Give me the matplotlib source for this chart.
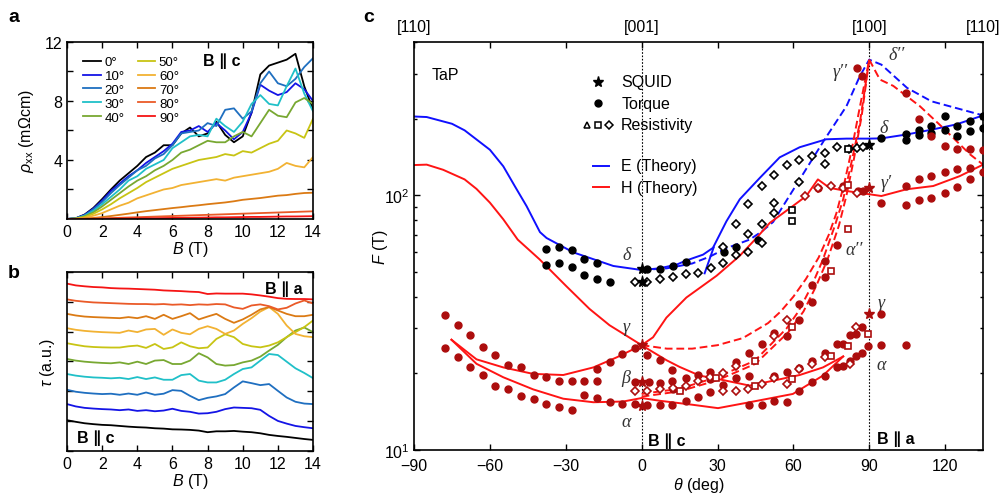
import matplotlib
matplotlib.use("Agg")
import matplotlib.pyplot as plt
import numpy as np

plt.rcParams["font.family"] = ["Liberation Sans", "DejaVu Sans"]
plt.rcParams["mathtext.fontset"] = "custom"
plt.rcParams["mathtext.rm"] = "Liberation Sans"
plt.rcParams["mathtext.it"] = "Liberation Sans:italic"
plt.rcParams["mathtext.bf"] = "Liberation Sans:bold"

# ---------------- panel a / b data ----------------
angles = ["0°", "10°", "20°", "30°", "40°", "50°", "60°", "70°", "80°", "90°"]
angle_colors = ["#000000", "#1414e6", "#1f6fc0", "#20c0c8", "#78a832",
                "#c8c414", "#f2b233", "#db7a14", "#ea5a28", "#f51414"]

field = [0, 0.5, 1, 1.5, 2, 2.5, 3, 3.5, 4, 4.5, 5, 5.5, 6, 6.5, 7, 7.5,
         8, 8.5, 9, 9.5, 10, 10.5, 11, 11.5, 12, 12.5, 13, 13.5, 14]

rho_xx = [
    [0, 0.05, 0.3, 0.75, 1.35, 2.0, 2.6, 3.1, 3.6, 4.2, 4.5, 5.0, 5.0, 5.8, 6.2,
     5.6, 5.8, 6.6, 5.7, 5.2, 5.6, 7.2, 9.8, 10.4, 10.6, 10.8, 11.2, 9.0, 7.4],
    [0, 0.05, 0.28, 0.7, 1.25, 1.9, 2.4, 2.9, 3.3, 3.8, 4.2, 4.6, 5.1, 5.9, 6.0,
     6.3, 5.9, 6.5, 6.0, 5.4, 5.9, 7.2, 9.1, 8.7, 8.4, 8.6, 9.2, 8.8, 8.0],
    [0, 0.04, 0.25, 0.65, 1.15, 1.75, 2.3, 2.8, 3.3, 3.6, 4.1, 4.4, 5.0, 5.8, 5.9,
     6.0, 6.5, 6.3, 7.4, 7.5, 6.8, 7.3, 9.2, 10.0, 9.2, 9.0, 9.5, 10.3, 10.9],
    [0, 0.04, 0.22, 0.55, 1.0, 1.5, 2.0, 2.6, 2.9, 3.4, 3.7, 4.0, 4.8, 5.2, 5.6,
     5.7, 5.6, 6.8, 6.3, 5.9, 6.6, 7.8, 8.4, 7.8, 7.7, 9.0, 10.2, 8.5, 7.3],
    [0, 0.03, 0.18, 0.45, 0.85, 1.3, 1.75, 2.2, 2.6, 2.9, 3.3, 3.6, 4.0, 4.5, 4.7,
     5.0, 5.3, 5.2, 5.2, 5.6, 5.9, 5.6, 6.5, 7.4, 7.0, 6.9, 7.9, 8.2, 7.8],
    [0, 0.02, 0.13, 0.35, 0.65, 1.0, 1.4, 1.75, 2.1, 2.5, 2.8, 3.1, 3.4, 3.6, 3.8,
     4.0, 4.1, 4.2, 4.4, 4.3, 4.6, 4.5, 4.8, 5.1, 5.3, 6.0, 5.8, 5.5, 6.8],
    [0, 0.01, 0.08, 0.22, 0.4, 0.65, 0.9, 1.1, 1.4, 1.6, 1.8, 2.0, 2.1, 2.3, 2.4,
     2.5, 2.6, 2.7, 2.6, 2.8, 2.9, 3.0, 3.1, 3.2, 3.4, 3.8, 3.6, 3.5, 4.2],
    [0, 0.01, 0.03, 0.07, 0.13, 0.2, 0.28, 0.36, 0.45, 0.53, 0.6, 0.67, 0.74, 0.8,
     0.87, 0.93, 1.0, 1.06, 1.12, 1.2, 1.3, 1.36, 1.42, 1.5, 1.58, 1.62, 1.7, 1.76, 1.78],
    [0, 0, 0.01, 0.02, 0.04, 0.06, 0.08, 0.1, 0.12, 0.14, 0.16, 0.18, 0.2, 0.22,
     0.24, 0.26, 0.28, 0.3, 0.32, 0.34, 0.36, 0.38, 0.4, 0.42, 0.44, 0.46, 0.48, 0.5, 0.52],
    [0, 0, 0, 0.01, 0.01, 0.02, 0.03, 0.03, 0.04, 0.05, 0.05, 0.06, 0.07, 0.08,
     0.08, 0.09, 0.1, 0.11, 0.11, 0.12, 0.13, 0.14, 0.14, 0.15, 0.16, 0.17, 0.17, 0.18, 0.19],
]

torque = [
    [17.2, 16.3, 15.5, 15.0, 14.6, 14.4, 14.0, 13.6, 13.3, 13.1, 12.7, 12.5, 12.1, 12.0,
     11.8, 11.4, 10.5, 11.0, 11.0, 11.2, 10.8, 10.5, 9.9, 9.0, 8.4, 7.9, 7.3, 6.7, 6.2],
    [26.2, 24.9, 24.1, 23.7, 23.4, 23.2, 22.8, 23.2, 22.4, 22.8, 22.2, 22.6, 23.6, 22.4,
     21.9, 20.9, 21.1, 21.9, 23.4, 24.3, 24.1, 23.9, 23.0, 19.6, 16.8, 15.3, 14.0, 13.3, 12.7],
    [34.2, 33.1, 32.5, 32.1, 31.8, 32.0, 31.4, 32.1, 31.4, 32.7, 31.4, 32.0, 34.0, 33.6,
     30.8, 28.4, 29.7, 30.5, 31.8, 35.5, 38.9, 37.9, 36.8, 37.4, 33.6, 29.9, 27.5, 26.5, 26.2],
    [43.0, 42.1, 41.5, 41.1, 40.9, 40.6, 40.9, 40.2, 41.3, 40.2, 41.1, 39.8, 39.8, 42.4,
     43.0, 39.3, 38.3, 38.3, 39.8, 43.0, 45.8, 46.7, 50.5, 54.2, 53.6, 49.9, 46.2, 43.6, 40.7],
    [51.4, 50.5, 49.9, 49.5, 49.2, 49.0, 49.5, 48.6, 49.9, 48.6, 50.5, 50.8, 48.6, 48.6,
     50.5, 54.6, 52.3, 48.6, 47.7, 48.0, 49.5, 50.5, 52.7, 56.1, 59.3, 63.6, 67.3, 69.0, 66.4],
    [60.2, 59.3, 58.5, 58.1, 57.9, 57.8, 57.8, 58.5, 58.9, 57.6, 59.8, 57.0, 57.9, 60.7,
     58.5, 57.4, 57.8, 62.6, 65.2, 63.6, 59.8, 58.5, 57.9, 58.9, 60.7, 63.6, 66.4, 69.2, 72.9],
    [68.6, 67.7, 67.1, 66.7, 66.4, 66.2, 66.0, 67.3, 66.4, 67.9, 68.2, 64.9, 67.9, 66.0,
     65.2, 68.2, 69.7, 68.2, 65.4, 67.3, 71.0, 74.2, 77.9, 80.4, 76.6, 70.1, 65.4, 64.1, 63.6],
    [76.6, 75.7, 75.1, 74.8, 74.6, 74.4, 74.2, 74.8, 74.2, 75.3, 73.8, 76.1, 73.8, 75.3,
     77.0, 73.5, 75.1, 76.6, 73.8, 71.6, 73.5, 76.1, 79.1, 80.4, 78.5, 76.6, 75.3, 75.3, 76.1],
    [84.7, 83.9, 83.4, 83.0, 82.8, 82.6, 82.4, 82.2, 82.1, 82.1, 81.9, 82.1, 81.7, 81.9,
     81.5, 81.9, 81.7, 82.1, 81.9, 80.2, 79.4, 81.3, 81.9, 80.9, 79.1, 80.0, 82.4, 84.1, 82.4],
    [93.5, 92.5, 92.0, 91.6, 91.4, 91.0, 90.8, 90.7, 90.5, 90.3, 90.1, 89.7, 89.5, 89.3,
     89.0, 88.8, 87.7, 88.0, 87.9, 87.9, 87.9, 87.5, 86.9, 86.2, 85.4, 85.0, 84.9, 84.9, 84.7],
]

# ---------------- panel c data ----------------
e_theta = [-90, -85, -75, -70, -60, -54.7, -50, -45.5, -40.2, -37.6, -27, -11.2, 0, 7.1,
           13.9, 17.7, 24.3, 28.2, 33.5, 38.8, 46.7, 54.6, 62.5, 73, 81, 90, 94.8, 105,
           114.6, 124.5, 135]
e_freq = [204, 203, 191, 180, 151, 130, 108, 90.7, 71.7, 68, 59.7, 52.8, 50.9, 51.7,
          53.5, 55.5, 58.5, 62.2, 79, 96.5, 117, 141, 154.5, 166, 167, 167, 167.4, 173.5,
          181, 190, 206]
e_branch_theta = [24.9, 28.5]
e_branch_freq = [49.4, 62.5]
e_dash_theta = [0, 10, 20, 27, 33.5, 42.7, 47.4, 52, 62.5, 72.4, 81, 86.3, 90, 94.8,
                105, 114.6, 124.5, 135]
e_dash_freq = [50.9, 51.7, 54.0, 57.5, 62, 67, 72, 78.6, 115.5, 166, 224, 294, 341,
               326, 264, 234, 220, 206]

h_upper_theta = [-90, -85, -78.5, -70, -65.3, -60, -54.7, -49, -40.4, -29.8, -20.6, -12.7,
                 -6, 0, 4.5, 9.8, 17.7, 29.6, 38.8, 45.4, 50.7, 59.8, 65.1, 69.7, 74.3,
                 81, 90, 94.8, 104.7, 115.3, 125.8, 135]
h_upper_freq = [131.5, 132, 126, 115.5, 106, 93.6, 80.5, 67, 56.1, 44, 35.8, 30.9, 28.1,
                25.8, 27.7, 33.1, 39.7, 48.3, 57.9, 68, 78, 90.8, 99.4, 115.5, 107, 104,
                101, 99.4, 105.6, 108.8, 119, 132]
h_beta_theta = [-75.2, -65.3, -54.7, -42.9, -31, -19.1, -9.9, 0, 4.6, 9.9, 15, 22.9,
                30.2, 42.7, 51.9, 62.5, 71.7, 79.7]
h_beta_freq = [27.1, 22.7, 21.1, 19.9, 19.7, 21.1, 23.1, 25.8, 24.2, 22.5, 21.2, 19.6,
               19.0, 17.9, 18.7, 19.7, 21.1, 23.3]
h_alpha_theta = [-75.2, -65.3, -54.7, -42.9, -31, -19.1, -7.3, 0, 7.3, 19.1, 30.2,
                 42.7, 59.8, 71.7, 79.7]
h_alpha_freq = [27.1, 21.8, 19.3, 17.3, 15.9, 15.4, 15.5, 16.0, 15.6, 15.1, 14.6,
                15.4, 16.6, 19.6, 23.3]
h_dash_gamma_theta = [0, 10, 20, 30, 40, 50, 55, 60, 65, 70, 74, 77, 80, 83, 86, 90]
h_dash_gamma_freq = [25.8, 25.0, 25.0, 25.8, 27.5, 31.5, 35, 40, 47, 57, 70, 85, 110,
                     150, 215, 341]
h_dash_a1_theta = [0, 15, 29.6, 44.7, 57.3, 62, 67.2, 71.7, 76.4, 79.7, 83, 86.3, 90]
h_dash_a1_freq = [16.6, 17.4, 19.3, 22.4, 30, 35, 44, 56, 76, 96.5, 135, 193, 341]
h_dash_a2_theta = [0, 15, 30, 45, 58, 64, 69, 73.5, 78, 81, 84, 87, 90]
h_dash_a2_freq = [16.2, 17.0, 18.8, 21.8, 29, 35, 44, 56, 76, 100, 140, 205, 341]
h_dash_right_theta = [90, 94.2, 99.5, 110, 119.2, 129.8, 135]
h_dash_right_freq = [341, 285, 269, 224, 184, 145, 132]

torque_black_theta = [-37.7, -32.7, -27.7, -22.7, -17.7, -37.7, -32.7, -27.7, -22.7,
                      -17.7, -12.7, 2.1, 7.1, 12.4, 17.4, 32.4, 37.2, 46, 94.8, 104.7,
                      104.7, 109.7, 109.7, 114.6, 114.6, 119.9, 119.9, 124.9, 124.9,
                      129.8, 129.8, 134.8, 134.8]
torque_black_freq = [61.4, 62.9, 60.8, 56.1, 54.1, 53.4, 54.1, 52.2, 48.7, 46.9, 45.5,
                     51.3, 51.3, 52.8, 54.8, 59.9, 62.7, 66.7, 167.4, 173.5, 164.5, 181,
                     172, 188, 176, 205, 181, 187, 171, 196, 178.6, 205, 184]
res_black_diamond_theta = [-2.5, 2.1, 7.4, 12.4, 17.4, 22.4, 27.4, 32.2, 32.2, 37.2,
                           37.2, 42.2, 42.2, 42.2, 47.4, 47.4, 47.4, 52.2, 52.2, 52.2,
                           57.3, 62.2, 62.2, 67.3, 72.4, 72.4, 77.3, 82.0, 85.0, 87.6]
res_black_diamond_freq = [45.8, 45.8, 47.1, 47.8, 49.0, 49.4, 52.0, 54.1, 62.7, 58.2,
                          77.0, 59.9, 70.4, 92.2, 64.9, 77.0, 109, 119.8, 93.0, 85.0,
                          132, 138, 112.8, 142.6, 147, 132.3, 154.6, 152.7, 154, 155]
res_black_square_theta = [59.6, 59.6, 81.6]
res_black_square_freq = [87.5, 79.3, 151.5]
squid_black_theta = [0, 0, 90]
squid_black_freq = [51.3, 45.8, 157]

torque_red_theta = [
    -77.7, -72.7, -67.7, -62.8, -57.8, -52.7, -47.8, -42.7, -37.7, -32.7, -27.7, -22.7, -17.7,
    -17.7, -12.7, -7.6, -2.8,
    -77.7, -72.7, -67.7, -62.8, -57.8, -52.7, -47.8, -42.7, -37.7, -32.7, -27.7,
    -22.7, -17.7, -12.7, -7.6, -2.8, -2.8, 2.8,
    2.1, 7.1, 12.1, 17.4, 22.3, 27.2, 37.2, 42.5, 47.4, 52.2,
    7.1, 12.1, 27.2, 32.2, 37.2, 42.5, 52.2,
    12.4, 22.3, 27.2,
    2.1, 7.1, 12.1, 17.4, 42.5, 47.4, 52.2,
    57.3, 57.3, 57.3, 62.2, 62.2, 62.2, 62.2, 67.2, 67.2, 67.2, 67.2, 72.4, 72.4, 72.4,
    72.4, 77.3, 77.3, 77.3, 79.7, 79.7, 82.3, 82.3, 84.7, 84.7, 87.3, 87.3, 89.6, 94.8,
    94.8, 104.7,
    85, 87, 85.6, 87.6, 69.8, 79.7, 104.7, 109.7, 114.6, 119.9, 124.8, 129.8, 134.8,
    104.7, 109.7, 114.6, 119.9, 124.8, 129.8, 134.8,
    94.8, 104.7, 109.7, 114.6, 119.9, 124.8, 129.8,
]
torque_red_freq = [
    33.8, 31.0, 28.3, 25.4, 23.7, 21.6, 21.1, 19.7, 19.3, 18.6, 18.6, 18.6, 18.6,
    20.8, 22.2, 23.9, 25.1,
    25.1, 23.2, 21.1, 19.7, 17.9, 17.3, 16.3, 15.9, 15.2, 14.8, 14.3,
    16.5, 16.0, 15.4, 15.2, 15.2, 18.5, 18.5,
    23.6, 22.6, 20.6, 19.2, 19.7, 20.2, 22.1, 24.0, 26.1, 28.9,
    18.3, 18.6, 19.0, 18.0, 19.2, 19.6, 19.6,
    17.4, 16.2, 16.9,
    15.0, 15.0, 15.0, 15.6, 15.0, 15.0, 15.6,
    28.1, 20.2, 15.4, 37.4, 32.4, 20.9, 17.1, 44.3, 38.1, 22.4, 18.5, 55.2, 47.6, 24.0,
    19.6, 64.0, 26.1, 21.1, 26.1, 21.4, 28.3, 22.4, 28.5, 23.3, 30.3, 24.1, 25.6, 34.2,
    25.8, 25.8,
    317, 295, 104, 104, 107, 108.8, 253, 199, 171, 156, 152.6, 152.6, 150,
    108.8, 116, 119.5, 123.4, 126.4, 128.4, 123.4,
    93, 91.4, 95.9, 97.9, 101.8, 108.2, 116,
]
res_red_square_theta = [81.6, 81.6, 74.8, 59.6, 89.6, 81.6, 74.8, 59.6, 15.0, 29.6,
                        44.7, 44.7]
res_red_square_freq = [109.7, 74, 50.5, 30.5, 28.5, 25.6, 23.5, 19.0, 17.1, 19.2,
                       22.4, 17.8]
res_red_diamond_theta = [69.8, 74.8, 79.7, 85, 64.5, 57.3, 84.7, 82.3, 67.2, 72.4,
                         62.2, 57.3, -2.5, 2.1, 7.1, 12.4, 17.4, 22.3, 27.2, 32.2, 37.2,
                         32.2, 37.2, 42.1, 47.4, 52.2, 52.2]
res_red_diamond_freq = [106.4, 108.8, 106.4, 101.8, 99.4, 32.4, 30.3, 21.7, 21.8, 23.2,
                        20.8, 18.2, 17.0, 17.1, 17.4, 17.5, 17.8, 18.7, 19.4, 17.1, 17.1,
                        20.1, 21.4, 17.4, 18.2, 19.2, 28.1]
squid_red_theta = [0, 0, 0, 90, 90]
squid_red_freq = [25.8, 18.5, 14.9, 106.4, 34.2]

direction_theta = [-90, 0, 90, 135]
direction_labels = ["[110]", "[001]", "[100]", "[110]"]

DARK_RED = "#ac0d0d"
RED = "#ff1414"
BLUE = "#1010ff"
TICK_SIZE = 11.5


def style_axes(ax):
    for spine in ax.spines.values():
        spine.set_linewidth(1.2)
    ax.tick_params(which="both", direction="in", top=True, right=True,
                   labelsize=TICK_SIZE, width=1.0)
    ax.tick_params(which="major", length=4)
    ax.tick_params(which="minor", length=2.5)


fig = plt.figure(figsize=(10.03, 5.02), dpi=100)

# ---------------- panel a ----------------
ax_a = fig.add_axes([0.0668, 0.5618, 0.2453, 0.3526])
for values, label, color in zip(rho_xx, angles, angle_colors):
    ax_a.plot(field, values, color=color, lw=1.3, label=label)
ax_a.set_xlim(0, 14)
ax_a.set_ylim(0, 12)
ax_a.set_xticks([0, 2, 4, 6, 8, 10, 12, 14])
ax_a.set_yticks([2, 4, 6, 8, 10, 12])
ax_a.set_yticklabels(["", "4", "", "8", "", "12"])
style_axes(ax_a)
ax_a.set_xlabel("$B$ (T)", fontsize=TICK_SIZE, labelpad=0)
ax_a.set_ylabel(r"$\rho_{\rm xx}$ (mΩcm)", fontsize=TICK_SIZE, labelpad=6)
ax_a.legend(ncol=2, loc="upper left", bbox_to_anchor=(0.045, 0.95), frameon=False,
            fontsize=9.5, handlelength=1.3, handletextpad=0.3, columnspacing=1.0,
            labelspacing=0.12, borderaxespad=0)
ax_a.text(0.63, 0.895, "B ∥ c", transform=ax_a.transAxes, fontsize=11.5,
          fontweight="bold", ha="center", va="center")
fig.text(0.008, 0.965, "a", fontsize=14, fontweight="bold", va="center")

# ---------------- panel b ----------------
ax_b = fig.add_axes([0.0668, 0.0996, 0.2453, 0.3566])
for values, color in zip(torque, angle_colors):
    ax_b.plot(field, values, color=color, lw=1.3)
ax_b.set_xlim(0, 14)
ax_b.set_ylim(0, 100)
ax_b.set_xticks([0, 2, 4, 6, 8, 10, 12, 14])
ax_b.set_yticks(np.linspace(0, 100, 7))
ax_b.set_yticklabels([])
style_axes(ax_b)
ax_b.set_xlabel("$B$ (T)", fontsize=TICK_SIZE, labelpad=0)
ax_b.set_ylabel(r"$\tau$ (a.u.)", fontsize=TICK_SIZE, labelpad=4)
ax_b.text(0.88, 0.91, "B ∥ a", transform=ax_b.transAxes, fontsize=11.5,
          fontweight="bold", ha="center", va="center")
ax_b.text(0.115, 0.075, "B ∥ c", transform=ax_b.transAxes, fontsize=11.5,
          fontweight="bold", ha="center", va="center")
fig.text(0.008, 0.455, "b", fontsize=14, fontweight="bold", va="center")

# ---------------- panel c ----------------
ax_c = fig.add_axes([0.4128, 0.1016, 0.5673, 0.8127])
ax_c.set_yscale("log")
ax_c.set_xlim(-90, 135)
ax_c.set_ylim(10, 400)
for x in (0, 90):
    ax_c.axvline(x, color="black", lw=0.8, ls=(0, (1.5, 1.5)), zorder=1)

ax_c.plot(e_theta, e_freq, color=BLUE, lw=1.4)
ax_c.plot(e_branch_theta, e_branch_freq, color=BLUE, lw=1.4)
ax_c.plot(e_dash_theta, e_dash_freq, color=BLUE, lw=1.4, ls=(0, (4, 2)))
ax_c.plot(h_upper_theta, h_upper_freq, color=RED, lw=1.4)
ax_c.plot(h_beta_theta, h_beta_freq, color=RED, lw=1.4)
ax_c.plot(h_alpha_theta, h_alpha_freq, color=RED, lw=1.4)
for th, fr in ((h_dash_gamma_theta, h_dash_gamma_freq),
               (h_dash_a1_theta, h_dash_a1_freq),
               (h_dash_a2_theta, h_dash_a2_freq),
               (h_dash_right_theta, h_dash_right_freq)):
    ax_c.plot(th, fr, color=RED, lw=1.4, ls=(0, (4, 2)))

ax_c.plot(torque_black_theta, torque_black_freq, "o", color="black", ms=5, zorder=4)
ax_c.plot(torque_red_theta, torque_red_freq, "o", color=DARK_RED, ms=5, zorder=4)
ax_c.plot(res_black_diamond_theta, res_black_diamond_freq, "D", mfc="white",
          mec="black", mew=1.2, ms=4, zorder=5)
ax_c.plot(res_black_square_theta, res_black_square_freq, "s", mfc="white",
          mec="black", mew=1.2, ms=4, zorder=5)
ax_c.plot(res_red_diamond_theta, res_red_diamond_freq, "D", mfc="white",
          mec=DARK_RED, mew=1.2, ms=4, zorder=5)
ax_c.plot(res_red_square_theta, res_red_square_freq, "s", mfc="white",
          mec=DARK_RED, mew=1.2, ms=4, zorder=5)
ax_c.plot(squid_black_theta, squid_black_freq, "*", color="black", ms=8, zorder=6)
ax_c.plot(squid_red_theta, squid_red_freq, "*", color=DARK_RED, ms=8, zorder=6)

ax_c.set_xticks([-90, -60, -30, 0, 30, 60, 90, 120])
ax_c.set_yticks([10, 100])
ax_c.set_yticklabels(["10$^1$", "10$^2$"])
style_axes(ax_c)
ax_c.tick_params(axis="x", pad=6)
ax_c.tick_params(axis="y", pad=3)
ax_c.set_xlabel(r"$\theta$ (deg)", fontsize=TICK_SIZE, labelpad=1)
ax_c.set_ylabel("$F$ (T)", fontsize=TICK_SIZE, labelpad=-4)
for x, lab in zip(direction_theta, direction_labels):
    ax_c.text(x, 1.037, lab, transform=ax_c.get_xaxis_transform(), ha="center",
              va="center", fontsize=TICK_SIZE)
fig.text(0.362, 0.965, "c", fontsize=14, fontweight="bold", va="center")

# legend drawn in axes coordinates
tr = ax_c.transAxes
ax_c.plot([0.323], [0.903], "*", color="black", ms=8, transform=tr)
ax_c.plot([0.323], [0.850], "o", color="black", ms=5, transform=tr)
ax_c.plot([0.3035], [0.797], "^", mfc="white", mec="black", mew=1.1, ms=4, transform=tr)
ax_c.plot([0.323], [0.797], "s", mfc="white", mec="black", mew=1.1, ms=4, transform=tr)
ax_c.plot([0.343], [0.797], "D", mfc="white", mec="black", mew=1.1, ms=3.6, transform=tr)
ax_c.plot([0.314, 0.342], [0.697, 0.697], color=BLUE, lw=1.4, transform=tr)
ax_c.plot([0.314, 0.342], [0.644, 0.644], color=RED, lw=1.4, transform=tr)
for y, lab in ((0.903, "SQUID"), (0.850, "Torque"), (0.797, "Resistivity"),
               (0.697, "E (Theory)"), (0.644, "H (Theory)")):
    ax_c.text(0.364, y, lab, transform=tr, va="center", ha="left", fontsize=TICK_SIZE)

ax_c.text(-83, 298, "TaP", fontsize=TICK_SIZE, ha="left", va="center")
ax_c.text(2.5, 10.9, "B ∥ c", fontsize=11.5, fontweight="bold", ha="left", va="center")
ax_c.text(93, 11.1, "B ∥ a", fontsize=11.5, fontweight="bold", ha="left", va="center")

greek = dict(family=["Liberation Serif", "DejaVu Serif"], style="italic",
             fontsize=13, ha="center", va="center", color="#333333")
for x, y, lab in ((-6.1, 58.7, "δ"), (-6.1, 30.6, "γ"), (-6.1, 19.3, "β"),
                  (-6.1, 12.9, "α"), (78.4, 307, "γ′′"), (100.8, 357, "δ′′"),
                  (95.8, 184, "δ"), (96.8, 112.8, "γ′"), (84, 61.4, "α′′"),
                  (94.9, 37.9, "γ"), (94.9, 21.7, "α")):
    ax_c.text(x, y, lab, **greek)

fig.savefig("out.png", dpi=100)
